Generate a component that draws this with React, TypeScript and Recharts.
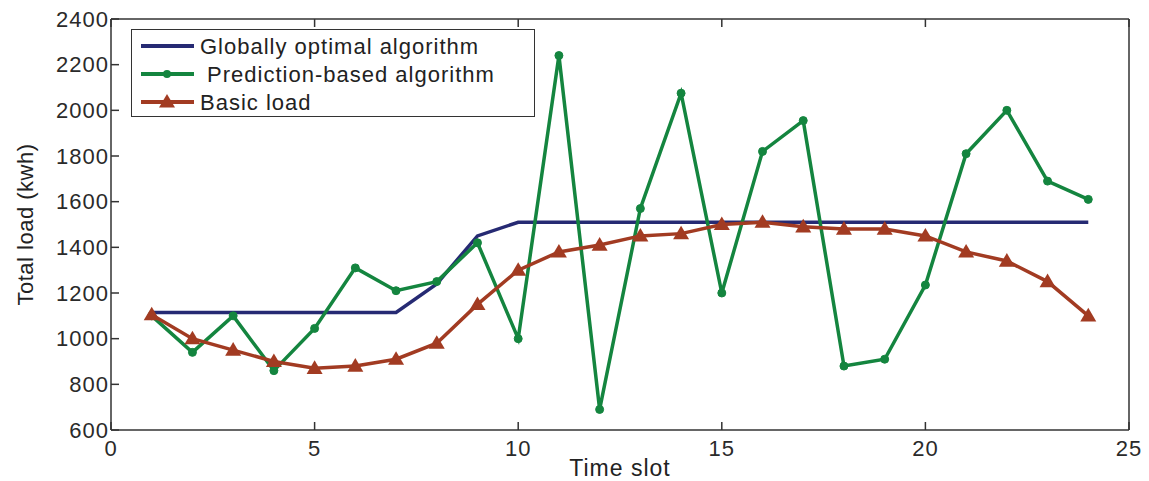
import { Legend, Line, LineChart, XAxis, YAxis } from "recharts"

const timeSlots = [1, 2, 3, 4, 5, 6, 7, 8, 9, 10, 11, 12, 13, 14, 15, 16, 17, 18, 19, 20, 21, 22, 23, 24]
const optimalLoad = [1115, 1115, 1115, 1115, 1115, 1115, 1115, 1240, 1450, 1510, 1510, 1510, 1510, 1510, 1510, 1510, 1510, 1510, 1510, 1510, 1510, 1510, 1510, 1510]
const predictionLoad = [1100, 940, 1100, 860, 1045, 1310, 1210, 1250, 1420, 1000, 2240, 690, 1570, 2075, 1200, 1820, 1955, 880, 910, 1235, 1810, 2000, 1690, 1610]
const basicLoad = [1105, 1000, 950, 900, 870, 880, 910, 980, 1150, 1300, 1380, 1410, 1450, 1460, 1500, 1510, 1490, 1480, 1480, 1450, 1380, 1340, 1250, 1100]
const xTicks = [0, 5, 10, 15, 20, 25]
const yTicks = [600, 800, 1000, 1200, 1400, 1600, 1800, 2000, 2200, 2400]
const seriesOrder = ["optimal", "prediction", "basic"]

const data = timeSlots.map((t, i) => ({
  t,
  optimal: optimalLoad[i],
  prediction: predictionLoad[i],
  basic: basicLoad[i],
}))

const NAVY = "#262a73"
const GREEN = "#14853f"
const RED = "#a23b22"
const AXIS = "#333333"
const FONT = "'Liberation Sans', Arial, sans-serif"
const TICK_LEN = 8

const tickText = { fontFamily: FONT, fontSize: 22, fill: "#2a2a2a", letterSpacing: 1 }

function Triangle(props: any) {
  const { cx, cy, index, fill } = props
  if (cx == null || cy == null) return <g key={index} />
  const s = 8
  return <polygon key={index} points={`${cx},${cy - s} ${cx - s},${cy + s * 0.7} ${cx + s},${cy + s * 0.7}`} fill={fill} />
}

function BottomTick(props: any) {
  const { x, y, payload } = props
  return (
    <g>
      <line x1={x} x2={x} y1={y} y2={y - TICK_LEN} stroke={AXIS} strokeWidth={1.5} />
      <text x={x} y={y + 26} textAnchor="middle" style={tickText}>
        {payload.value}
      </text>
    </g>
  )
}

function LeftTick(props: any) {
  const { x, y, payload } = props
  return (
    <g>
      <line x1={x} x2={x + TICK_LEN} y1={y} y2={y} stroke={AXIS} strokeWidth={1.5} />
      <text x={x - 2} y={y} textAnchor="end" dominantBaseline="central" style={tickText}>
        {payload.value}
      </text>
    </g>
  )
}

function TopTick(props: any) {
  const { x, y } = props
  return <line x1={x} x2={x} y1={y} y2={y + TICK_LEN} stroke={AXIS} strokeWidth={1.5} />
}

function RightTick(props: any) {
  const { x, y } = props
  return <line x1={x} x2={x - TICK_LEN} y1={y} y2={y} stroke={AXIS} strokeWidth={1.5} />
}

function LegendBox(props: any) {
  const items = [...(props.payload || [])].sort(
    (a: any, b: any) => seriesOrder.indexOf(a.dataKey) - seriesOrder.indexOf(b.dataKey)
  )
  return (
    <div style={{ width: 402, height: 86, border: "1.5px solid #333", background: "#fff" }}>
      <svg width={402} height={86}>
        {items.map((item: any, i: number) => {
          const cy = 16 + i * 28
          const key = item.dataKey
          return (
            <g key={key}>
              <line x1={9} x2={62} y1={cy} y2={cy} stroke={item.color} strokeWidth={4} />
              {key === "prediction" && <circle cx={35} cy={cy} r={4} fill={item.color} />}
              {key === "basic" && <Triangle cx={35} cy={cy} fill={item.color} index={i} />}
              <text
                x={68}
                y={cy}
                dominantBaseline="central"
                style={{ fontFamily: FONT, fontSize: 22, fill: "#222", letterSpacing: 1, whiteSpace: "pre" }}
              >
                {item.value}
              </text>
            </g>
          )
        })}
      </svg>
    </div>
  )
}

export default function App() {
  return (
    <div style={{ position: "absolute", left: 0, top: 0, background: "#fff" }}>
      <LineChart width={1149} height={481} data={data} margin={{ top: 0, right: 0, bottom: 0, left: 0 }}>
        <XAxis
          dataKey="t"
          type="number"
          domain={[0, 25]}
          ticks={xTicks}
          height={51}
          stroke={AXIS}
          strokeWidth={1.5}
          tickLine={false}
          tickSize={0}
          tickMargin={0}
          tick={<BottomTick />}
          interval={0}
          label={{
            content: (p: any) => {
              const vb = p.viewBox
              return (
                <text
                  x={vb.x + vb.width / 2}
                  y={vb.y + 38}
                  textAnchor="middle"
                  dominantBaseline="central"
                  style={{ fontFamily: FONT, fontSize: 23, fill: "#222", letterSpacing: 1 }}
                >
                  Time slot
                </text>
              )
            },
          }}
        />
        <XAxis
          xAxisId="top"
          dataKey="t"
          type="number"
          orientation="top"
          domain={[0, 25]}
          ticks={xTicks}
          height={19}
          stroke={AXIS}
          strokeWidth={1.5}
          tickLine={false}
          tickSize={0}
          tickMargin={0}
          tick={<TopTick />}
          interval={0}
        />
        <YAxis
          type="number"
          domain={[600, 2400]}
          ticks={yTicks}
          width={111}
          stroke={AXIS}
          strokeWidth={1.5}
          tickLine={false}
          tickSize={0}
          tickMargin={0}
          tick={<LeftTick />}
          interval={0}
          label={{
            content: (p: any) => {
              const vb = p.viewBox
              const cx = vb.x + 25
              const cy = vb.y + vb.height / 2
              return (
                <text
                  x={cx}
                  y={cy}
                  transform={`rotate(-90 ${cx} ${cy})`}
                  textAnchor="middle"
                  dominantBaseline="central"
                  style={{ fontFamily: FONT, fontSize: 22, fill: "#222", letterSpacing: 0.5 }}
                >
                  Total load (kwh)
                </text>
              )
            },
          }}
        />
        <YAxis
          yAxisId="right"
          orientation="right"
          type="number"
          domain={[600, 2400]}
          ticks={yTicks}
          width={20}
          stroke={AXIS}
          strokeWidth={1.5}
          tickLine={false}
          tickSize={0}
          tickMargin={0}
          tick={<RightTick />}
          interval={0}
        />
        <Legend
          layout="vertical"
          align="center"
          verticalAlign="middle"
          content={<LegendBox />}
          wrapperStyle={{ position: "absolute", left: 131, top: 29, width: 405, height: 89 }}
        />
        <Line
          type="linear"
          dataKey="optimal"
          name="Globally optimal algorithm"
          stroke={NAVY}
          strokeWidth={3.5}
          dot={false}
          isAnimationActive={false}
        />
        <Line
          type="linear"
          dataKey="prediction"
          name=" Prediction-based algorithm"
          stroke={GREEN}
          strokeWidth={3.5}
          dot={{ r: 4, fill: GREEN, stroke: GREEN, strokeWidth: 1 }}
          isAnimationActive={false}
        />
        <Line
          type="linear"
          dataKey="basic"
          name="Basic load"
          stroke={RED}
          strokeWidth={3.5}
          dot={<Triangle fill={RED} />}
          isAnimationActive={false}
        />
      </LineChart>
    </div>
  )
}
